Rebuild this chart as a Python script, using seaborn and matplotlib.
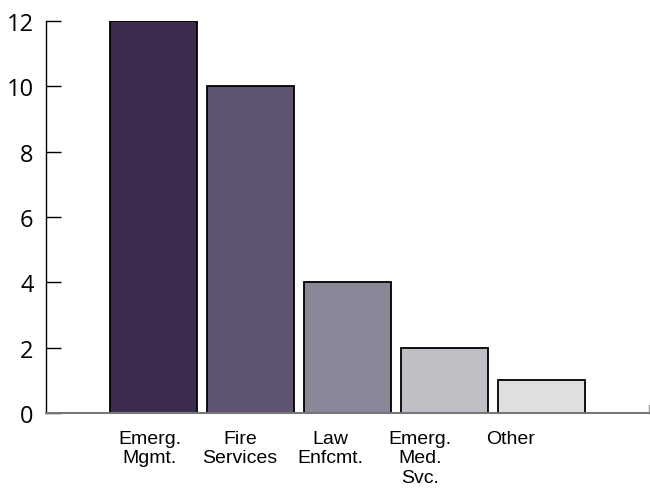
import matplotlib
matplotlib.use("Agg")
import matplotlib.pyplot as plt
import seaborn as sns
import pandas as pd

# datos del grafico
categorias = ["Emerg.\nMgmt.", "Fire\nServices", "Law\nEnfcmt.", "Emerg.\nMed.\nSvc.", "Other"]
valores = [12, 10, 4, 2, 1]
colores = ["#3c2b4f", "#5f5573", "#8b8698", "#c1bec5", "#dfdfe1"]
ticks_y = [0, 2, 4, 6, 8, 10, 12]

df = pd.DataFrame({"cat": categorias, "val": valores})

sns.set_style("white")

fig = plt.figure(figsize=(6.5, 4.89), dpi=100)
ax = fig.add_axes([0.0708, 0.1534, 0.9277, 0.8016])

sns.barplot(data=df, x="cat", y="val", hue="cat", palette=colores, legend=False,
            width=0.9, edgecolor="black", linewidth=1.3, saturation=1, ax=ax)

ax.set_xlim(-1.11, 5.11)
ax.set_ylim(0, 12)
ax.set_yticks(ticks_y)
ax.set_yticklabels([str(t) for t in ticks_y], fontfamily="Open Sans", fontsize=17)
ax.tick_params(axis="y", left=True, direction="in", length=11, width=1,
               color="black", labelcolor="black", pad=9)

# en el original las etiquetas quedan un poco corridas a la izquierda
pos_etiquetas = [i * 0.93 - 0.04 for i in range(len(categorias))]
ax.set_xticks(pos_etiquetas)
ax.set_xticklabels(categorias)
ax.tick_params(axis="x", length=0, pad=12, labelcolor="black")
for lab in ax.get_xticklabels():
    lab.set_fontfamily("Liberation Sans")
    lab.set_fontsize(14)
    lab.set_linespacing(1.2)
    lab.set_verticalalignment("top")

ax.set_xlabel("")
ax.set_ylabel("")
ax.spines["top"].set_visible(False)
ax.spines["right"].set_visible(False)
ax.spines["left"].set_color("black")
ax.spines["left"].set_linewidth(1)
ax.spines["bottom"].set_color("#777777")
ax.spines["bottom"].set_linewidth(1.5)
# pequena marca al final del eje x
ax.plot([5.11, 5.11], [0, 0.25], color="#999999", lw=1, clip_on=False)

fig.savefig("out.png", dpi=100)
